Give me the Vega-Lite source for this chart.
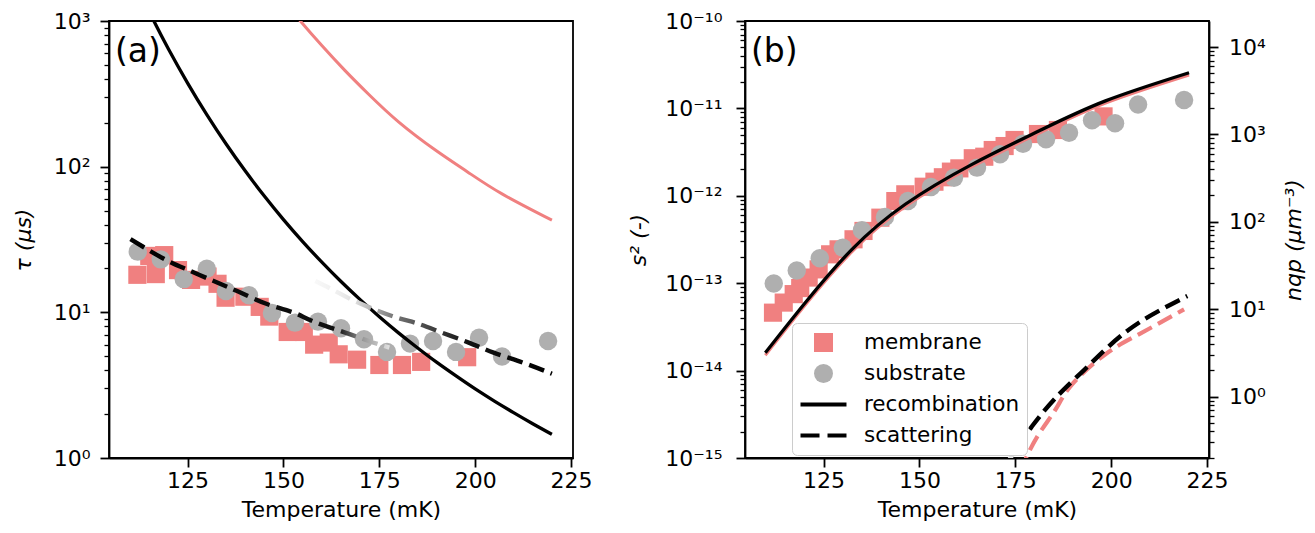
{
  "$schema": "https://vega.github.io/schema/vega-lite/v6.json",
  "padding": {"left": 11, "top": 9, "right": 5, "bottom": 5},
  "background": "white",
  "spacing": 33,
  "resolve": {"scale": {"fill": "independent", "stroke": "independent", "shape": "independent", "strokeDash": "independent"}, "legend": {"fill": "independent", "stroke": "independent", "shape": "independent", "strokeDash": "independent"}},
  "config": {
    "font": "DejaVu Sans",
    "view": {"stroke": "black", "strokeWidth": 1.8},
    "axis": {
      "labelFontSize": 22, "titleFontSize": 22, "titleFontWeight": "normal",
      "labelColor": "black", "titleColor": "black", "tickColor": "black", "domainColor": "black",
      "tickWidth": 1.8, "domainWidth": 1.8, "grid": false, "labelFlush": false, "labelOverlap": false,
      "labelFont": "DejaVu Sans", "titleFont": "DejaVu Sans"
    }
  },
  "datasets": {
    "a_pts": [
      {"series": "membrane", "T": 111.9, "tau": 18.1},
      {"series": "membrane", "T": 115.0, "tau": 24.4},
      {"series": "membrane", "T": 116.7, "tau": 18.3},
      {"series": "membrane", "T": 118.9, "tau": 24.7},
      {"series": "membrane", "T": 122.5, "tau": 19.5},
      {"series": "membrane", "T": 125.9, "tau": 16.7},
      {"series": "membrane", "T": 130.2, "tau": 17.6},
      {"series": "membrane", "T": 132.8, "tau": 15.7},
      {"series": "membrane", "T": 134.9, "tau": 12.6},
      {"series": "membrane", "T": 139.8, "tau": 12.8},
      {"series": "membrane", "T": 143.8, "tau": 10.9},
      {"series": "membrane", "T": 146.3, "tau": 9.35},
      {"series": "membrane", "T": 151.1, "tau": 7.33},
      {"series": "membrane", "T": 155.3, "tau": 7.33},
      {"series": "membrane", "T": 158.0, "tau": 6.0},
      {"series": "membrane", "T": 161.8, "tau": 6.2},
      {"series": "membrane", "T": 164.4, "tau": 5.15},
      {"series": "membrane", "T": 169.2, "tau": 4.73},
      {"series": "membrane", "T": 175.0, "tau": 4.35},
      {"series": "membrane", "T": 180.9, "tau": 4.35},
      {"series": "membrane", "T": 185.9, "tau": 4.57},
      {"series": "membrane", "T": 197.9, "tau": 4.92},
      {"series": "substrate", "T": 112, "tau": 26.1},
      {"series": "substrate", "T": 118, "tau": 23.1},
      {"series": "substrate", "T": 124, "tau": 16.9},
      {"series": "substrate", "T": 130, "tau": 19.9},
      {"series": "substrate", "T": 135, "tau": 14.0},
      {"series": "substrate", "T": 141, "tau": 13.1},
      {"series": "substrate", "T": 147, "tau": 9.9},
      {"series": "substrate", "T": 153, "tau": 8.5},
      {"series": "substrate", "T": 159, "tau": 8.63},
      {"series": "substrate", "T": 165, "tau": 7.78},
      {"series": "substrate", "T": 171, "tau": 6.53},
      {"series": "substrate", "T": 177, "tau": 5.35},
      {"series": "substrate", "T": 183, "tau": 6.1},
      {"series": "substrate", "T": 189, "tau": 6.36},
      {"series": "substrate", "T": 195, "tau": 5.35},
      {"series": "substrate", "T": 201, "tau": 6.7},
      {"series": "substrate", "T": 207, "tau": 4.97},
      {"series": "substrate", "T": 219, "tau": 6.36}
    ],
    "a_lines": [
      {"curve": "recomb", "T": 113, "tau": 1482},
      {"curve": "recomb", "T": 116.2, "tau": 1000},
      {"curve": "recomb", "T": 120, "tau": 643},
      {"curve": "recomb", "T": 125, "tau": 375},
      {"curve": "recomb", "T": 130, "tau": 227.8},
      {"curve": "recomb", "T": 135, "tau": 143.6},
      {"curve": "recomb", "T": 140, "tau": 93.6},
      {"curve": "recomb", "T": 145, "tau": 62.8},
      {"curve": "recomb", "T": 150, "tau": 43.3},
      {"curve": "recomb", "T": 155, "tau": 30.6},
      {"curve": "recomb", "T": 160, "tau": 22.1},
      {"curve": "recomb", "T": 165, "tau": 16.27},
      {"curve": "recomb", "T": 170, "tau": 12.22},
      {"curve": "recomb", "T": 175, "tau": 9.33},
      {"curve": "recomb", "T": 180, "tau": 7.23},
      {"curve": "recomb", "T": 185, "tau": 5.69},
      {"curve": "recomb", "T": 190, "tau": 4.53},
      {"curve": "recomb", "T": 195, "tau": 3.66},
      {"curve": "recomb", "T": 200, "tau": 2.98},
      {"curve": "recomb", "T": 205, "tau": 2.46},
      {"curve": "recomb", "T": 210, "tau": 2.05},
      {"curve": "recomb", "T": 215, "tau": 1.72},
      {"curve": "recomb", "T": 220, "tau": 1.455},
      {"curve": "memrecomb", "T": 150, "tau": 1380},
      {"curve": "memrecomb", "T": 154.4, "tau": 1000},
      {"curve": "memrecomb", "T": 160, "tau": 678},
      {"curve": "memrecomb", "T": 166, "tau": 458},
      {"curve": "memrecomb", "T": 172.2, "tau": 314},
      {"curve": "memrecomb", "T": 180, "tau": 203},
      {"curve": "memrecomb", "T": 189.6, "tau": 130},
      {"curve": "memrecomb", "T": 198, "tau": 92},
      {"curve": "memrecomb", "T": 207, "tau": 65},
      {"curve": "memrecomb", "T": 220, "tau": 42.9},
      {"curve": "scatA", "T": 110.1, "tau": 31.8},
      {"curve": "scatA", "T": 118.3, "tau": 23.7},
      {"curve": "scatA", "T": 124.4, "tau": 19.9},
      {"curve": "scatA", "T": 131.8, "tau": 16.4},
      {"curve": "scatA", "T": 137.9, "tau": 14.0},
      {"curve": "scatA", "T": 145.7, "tau": 11.4},
      {"curve": "scatA", "T": 152.7, "tau": 9.95},
      {"curve": "scatA", "T": 157.9, "tau": 8.63},
      {"curve": "scatA", "T": 166.1, "tau": 7.26},
      {"curve": "scatA", "T": 172.2, "tau": 6.36},
      {"curve": "scatA", "T": 177.6, "tau": 5.73},
      {"curve": "scatB", "T": 158.3, "tau": 16.4},
      {"curve": "scatB", "T": 163.5, "tau": 14.0},
      {"curve": "scatB", "T": 169, "tau": 11.8},
      {"curve": "scatB", "T": 178.3, "tau": 9.44},
      {"curve": "scatB", "T": 184.8, "tau": 8.4},
      {"curve": "scatB", "T": 191.3, "tau": 7.26},
      {"curve": "scatB", "T": 198.3, "tau": 6.2},
      {"curve": "scatB", "T": 204.8, "tau": 5.29},
      {"curve": "scatB", "T": 212.4, "tau": 4.52},
      {"curve": "scatB", "T": 220, "tau": 3.79}
    ],
    "b_pts": [
      {"series": "membrane", "T": 111.8, "s2": 4.6e-14},
      {"series": "membrane", "T": 114.6, "s2": 6.0e-14},
      {"series": "membrane", "T": 117.2, "s2": 7.5e-14},
      {"series": "membrane", "T": 118.9, "s2": 8.8e-14},
      {"series": "membrane", "T": 121.1, "s2": 1.16e-13},
      {"series": "membrane", "T": 123.7, "s2": 1.44e-13},
      {"series": "membrane", "T": 126.7, "s2": 2.14e-13},
      {"series": "membrane", "T": 128.9, "s2": 2.44e-13},
      {"series": "membrane", "T": 132.8, "s2": 3.18e-13},
      {"series": "membrane", "T": 135.4, "s2": 3.96e-13},
      {"series": "membrane", "T": 139.8, "s2": 5.62e-13},
      {"series": "membrane", "T": 143.7, "s2": 8.7e-13},
      {"series": "membrane", "T": 146.3, "s2": 1.04e-12},
      {"series": "membrane", "T": 151.1, "s2": 1.27e-12},
      {"series": "membrane", "T": 153.9, "s2": 1.45e-12},
      {"series": "membrane", "T": 156.1, "s2": 1.63e-12},
      {"series": "membrane", "T": 158.2, "s2": 1.89e-12},
      {"series": "membrane", "T": 160.4, "s2": 2.06e-12},
      {"series": "membrane", "T": 163.9, "s2": 2.69e-12},
      {"series": "membrane", "T": 166.9, "s2": 2.8e-12},
      {"series": "membrane", "T": 169.1, "s2": 3.34e-12},
      {"series": "membrane", "T": 172.2, "s2": 3.71e-12},
      {"series": "membrane", "T": 174.8, "s2": 4.35e-12},
      {"series": "membrane", "T": 180.9, "s2": 5.09e-12},
      {"series": "membrane", "T": 186.1, "s2": 5.66e-12},
      {"series": "membrane", "T": 198.0, "s2": 8.1e-12},
      {"series": "substrate", "T": 112, "s2": 9.9e-14},
      {"series": "substrate", "T": 118, "s2": 1.4e-13},
      {"series": "substrate", "T": 124, "s2": 1.93e-13},
      {"series": "substrate", "T": 130, "s2": 2.55e-13},
      {"series": "substrate", "T": 135, "s2": 4.03e-13},
      {"series": "substrate", "T": 141, "s2": 5.72e-13},
      {"series": "substrate", "T": 147, "s2": 8.73e-13},
      {"series": "substrate", "T": 153, "s2": 1.26e-12},
      {"series": "substrate", "T": 159, "s2": 1.61e-12},
      {"series": "substrate", "T": 165, "s2": 2.1e-12},
      {"series": "substrate", "T": 171, "s2": 2.99e-12},
      {"series": "substrate", "T": 177, "s2": 3.95e-12},
      {"series": "substrate", "T": 183, "s2": 4.43e-12},
      {"series": "substrate", "T": 189, "s2": 5.27e-12},
      {"series": "substrate", "T": 195, "s2": 7.31e-12},
      {"series": "substrate", "T": 201, "s2": 6.76e-12},
      {"series": "substrate", "T": 207, "s2": 1.11e-11},
      {"series": "substrate", "T": 219, "s2": 1.25e-11}
    ],
    "b_lines": [
      {"curve": "recomb", "T": 109.8, "s2": 1.6e-14},
      {"curve": "recomb", "T": 120.2, "s2": 5.98e-14},
      {"curve": "recomb", "T": 132.4, "s2": 2.44e-13},
      {"curve": "recomb", "T": 146.3, "s2": 8.0e-13},
      {"curve": "recomb", "T": 163.7, "s2": 2.29e-12},
      {"curve": "recomb", "T": 181.1, "s2": 5.51e-12},
      {"curve": "recomb", "T": 198.5, "s2": 1.22e-11},
      {"curve": "recomb", "T": 220.3, "s2": 2.56e-11},
      {"curve": "memrecomb", "T": 109.8, "s2": 1.5e-14},
      {"curve": "memrecomb", "T": 120.2, "s2": 5.62e-14},
      {"curve": "memrecomb", "T": 132.4, "s2": 2.29e-13},
      {"curve": "memrecomb", "T": 146.3, "s2": 7.52e-13},
      {"curve": "memrecomb", "T": 163.7, "s2": 2.15e-12},
      {"curve": "memrecomb", "T": 181.1, "s2": 5.18e-12},
      {"curve": "memrecomb", "T": 198.5, "s2": 1.15e-11},
      {"curve": "memrecomb", "T": 220.3, "s2": 2.41e-11},
      {"curve": "scat", "T": 172, "s2": 7.8e-16},
      {"curve": "scat", "T": 173.7, "s2": 1.0e-15},
      {"curve": "scat", "T": 179.4, "s2": 2.32e-15},
      {"curve": "scat", "T": 186.4, "s2": 5.36e-15},
      {"curve": "scat", "T": 192.5, "s2": 9.75e-15},
      {"curve": "scat", "T": 198.5, "s2": 1.75e-14},
      {"curve": "scat", "T": 207.2, "s2": 3.53e-14},
      {"curve": "scat", "T": 219.85, "s2": 7.14e-14},
      {"curve": "memscat", "T": 176.3, "s2": 7.1e-16},
      {"curve": "memscat", "T": 177.8, "s2": 1.0e-15},
      {"curve": "memscat", "T": 181.1, "s2": 1.87e-15},
      {"curve": "memscat", "T": 185.5, "s2": 3.6e-15},
      {"curve": "memscat", "T": 189.8, "s2": 6.97e-15},
      {"curve": "memscat", "T": 198.5, "s2": 1.54e-14},
      {"curve": "memscat", "T": 207.2, "s2": 2.6e-14},
      {"curve": "memscat", "T": 219, "s2": 5.02e-14}
    ]
  },
  "hconcat": [
    {
      "width": 464,
      "height": 437,
      "title": {"text": "(a)", "anchor": "start", "frame": "group", "offset": -85, "baseline": "alphabetic", "dx": 6, "fontSize": 33, "fontWeight": "normal", "font": "DejaVu Sans", "color": "black"},
      "resolve": {"axis": {"y": "independent"}},
      "encoding": {
        "x": {"field": "T", "type": "quantitative", "scale": {"domain": [104.5, 225.5], "nice": false, "zero": false},
              "axis": {"values": [125, 150, 175, 200, 225], "title": "Temperature (mK)", "tickSize": 9, "labelPadding": 3.5, "titlePadding": 8}}
      },
      "layer": [
        {
          "data": {"name": "a_pts"},
          "transform": [{"filter": "datum.series === 'membrane'"}],
          "mark": {"type": "point", "shape": "square", "filled": true, "size": 330, "color": "#f08080", "opacity": 1},
          "encoding": {
            "y": {"field": "tau", "type": "quantitative", "scale": {"type": "log", "domain": [1, 1000], "nice": false},
                  "axis": {"orient": "left", "values": [1, 10, 100, 1000], "labelExpr": "'10' + ['⁰','¹','²','³'][round(log(datum.value)/LN10)]", "title": "τ (μs)", "titleFontStyle": "italic", "tickSize": 9, "labelPadding": 10, "titlePadding": 18}}
          }
        },
        {
          "data": {"name": "a_pts"},
          "transform": [{"filter": "datum.series === 'substrate'"}],
          "mark": {"type": "point", "shape": "circle", "filled": true, "size": 340, "color": "#afafaf", "opacity": 1},
          "encoding": {"y": {"field": "tau", "type": "quantitative", "axis": null}}
        },
        {
          "data": {"name": "a_lines"},
          "transform": [{"filter": "datum.curve === 'memrecomb'"}],
          "mark": {"type": "line", "color": "#f08080", "strokeWidth": 3, "clip": true, "interpolate": "natural"},
          "encoding": {"y": {"field": "tau", "type": "quantitative", "axis": null}}
        },
        {
          "data": {"name": "a_lines"},
          "transform": [{"filter": "datum.curve === 'recomb'"}],
          "mark": {"type": "line", "color": "black", "strokeWidth": 3.3, "clip": true, "interpolate": "natural"},
          "encoding": {"y": {"field": "tau", "type": "quantitative", "axis": null}}
        },
        {
          "data": {"name": "a_lines"},
          "transform": [{"filter": "datum.curve === 'scatA'"}],
          "mark": {"type": "line", "strokeWidth": 4.4, "strokeDash": [16, 7], "strokeCap": "butt", "clip": true, "interpolate": "natural",
                   "color": {"gradient": "linear", "x1": 0, "y1": 0, "x2": 1, "y2": 0, "stops": [{"offset": 0, "color": "#000000"}, {"offset": 0.8, "color": "#111111"}, {"offset": 0.9, "color": "#999999"}, {"offset": 1, "color": "#e0e0e0"}]}},
          "encoding": {"y": {"field": "tau", "type": "quantitative", "axis": null}}
        },
        {
          "data": {"name": "a_lines"},
          "transform": [{"filter": "datum.curve === 'scatB'"}],
          "mark": {"type": "line", "strokeWidth": 4.4, "strokeDash": [16, 7], "strokeCap": "butt", "clip": true, "interpolate": "natural",
                   "color": {"gradient": "linear", "x1": 0, "y1": 0, "x2": 1, "y2": 0, "stops": [{"offset": 0, "color": "#f8f8f8"}, {"offset": 0.1, "color": "#eeeeee"}, {"offset": 0.17, "color": "#dddddd"}, {"offset": 0.33, "color": "#777777"}, {"offset": 0.43, "color": "#555555"}, {"offset": 0.54, "color": "#333333"}, {"offset": 0.65, "color": "#111111"}, {"offset": 1, "color": "#000000"}]}},
          "encoding": {"y": {"field": "tau", "type": "quantitative", "axis": null}}
        },
        {
          "data": {"name": "a_pts"},
          "mark": {"type": "point", "opacity": 0},
          "encoding": {
            "y": {"field": "tau", "type": "quantitative",
                  "axis": {"orient": "left", "values": [2,3,4,5,6,7,8,9,20,30,40,50,60,70,80,90,200,300,400,500,600,700,800,900], "labels": false, "domain": false, "tickSize": 5, "tickWidth": 1.3, "title": null}}
          }
        }
      ]
    },
    {
      "width": 464,
      "height": 437,
      "title": {"text": "(b)", "anchor": "start", "frame": "group", "offset": -85, "baseline": "alphabetic", "dx": 6, "fontSize": 33, "fontWeight": "normal", "font": "DejaVu Sans", "color": "black"},
      "resolve": {"scale": {"y": "independent"}, "axis": {"y": "independent"}},
      "encoding": {
        "x": {"field": "T", "type": "quantitative", "scale": {"domain": [104.5, 225.5], "nice": false, "zero": false},
              "axis": {"values": [125, 150, 175, 200, 225], "title": "Temperature (mK)", "tickSize": 9, "labelPadding": 3.5, "titlePadding": 8}}
      },
      "layer": [
        {
          "data": {"name": "b_pts"},
          "transform": [{"filter": "datum.series === 'membrane'"}],
          "mark": {"type": "point", "filled": true, "size": 330, "opacity": 1, "strokeWidth": 3.8},
          "encoding": {
            "y": {"field": "s2", "type": "quantitative", "scale": {"type": "log", "domain": [1e-15, 1e-10], "nice": false},
                  "axis": {"orient": "left", "values": [1e-15, 1e-14, 1e-13, 1e-12, 1e-11, 1e-10], "labelExpr": "'10⁻¹' + ['⁰','¹','²','³','⁴','⁵'][round(-log(datum.value)/LN10) - 10]", "title": "s² (-)", "titleFontStyle": "italic", "tickSize": 9, "labelPadding": 14, "titlePadding": 14}},
            "fill": {"field": "series", "type": "nominal",
                     "scale": {"domain": ["membrane", "substrate", "recombination", "scattering"], "range": ["#f08080", "#afafaf", "rgba(0,0,0,0)", "rgba(0,0,0,0)"]},
                     "legend": {
                       "title": null, "orient": "none", "legendX": 47, "legendY": 302,
                       "fillColor": "white", "strokeColor": "#cccccc", "cornerRadius": 5, "padding": 7,
                       "labelFontSize": 21.5, "labelColor": "black", "labelFont": "DejaVu Sans",
                       "symbolSize": 361, "symbolOffset": 13, "labelOffset": 29, "rowPadding": 6, "clipHeight": 25,
                       "symbolStrokeWidth": 3.8, "symbolOpacity": 1
                     }},
            "stroke": {"field": "series", "type": "nominal",
                       "scale": {"domain": ["membrane", "substrate", "recombination", "scattering"], "range": ["rgba(0,0,0,0)", "rgba(0,0,0,0)", "#000000", "#000000"]}},
            "shape": {"field": "series", "type": "nominal",
                      "scale": {"domain": ["membrane", "substrate", "recombination", "scattering"], "range": ["square", "circle", "M-2.42,0L2.42,0", "M-2.42,0L2.42,0"]}},
            "strokeDash": {"field": "series", "type": "nominal",
                           "scale": {"domain": ["membrane", "substrate", "recombination", "scattering"], "range": [[1, 0], [1, 0], [1, 0], [19, 8]]}}
          }
        },
        {
          "data": {"name": "b_pts"},
          "transform": [{"filter": "datum.series === 'substrate'"}],
          "mark": {"type": "point", "shape": "circle", "filled": true, "size": 340, "color": "#afafaf", "opacity": 1},
          "encoding": {"y": {"field": "s2", "type": "quantitative", "scale": {"type": "log", "domain": [1e-15, 1e-10], "nice": false}, "axis": null}}
        },
        {
          "data": {"name": "b_lines"},
          "transform": [{"filter": "datum.curve === 'memrecomb'"}],
          "mark": {"type": "line", "color": "#f08080", "strokeWidth": 3, "clip": true, "interpolate": "natural"},
          "encoding": {"y": {"field": "s2", "type": "quantitative", "scale": {"type": "log", "domain": [1e-15, 1e-10], "nice": false}, "axis": null}}
        },
        {
          "data": {"name": "b_lines"},
          "transform": [{"filter": "datum.curve === 'recomb'"}],
          "mark": {"type": "line", "color": "black", "strokeWidth": 3.3, "clip": true, "interpolate": "natural"},
          "encoding": {"y": {"field": "s2", "type": "quantitative", "scale": {"type": "log", "domain": [1e-15, 1e-10], "nice": false}, "axis": null}}
        },
        {
          "data": {"name": "b_lines"},
          "transform": [{"filter": "datum.curve === 'memscat'"}],
          "mark": {"type": "line", "color": "#f08080", "strokeWidth": 4.2, "strokeDash": [16, 7], "strokeCap": "butt", "clip": true, "interpolate": "natural"},
          "encoding": {"y": {"field": "s2", "type": "quantitative", "scale": {"type": "log", "domain": [1e-15, 1e-10], "nice": false}, "axis": null}}
        },
        {
          "data": {"name": "b_lines"},
          "transform": [{"filter": "datum.curve === 'scat'"}],
          "mark": {"type": "line", "strokeWidth": 4.4, "strokeDash": [16, 7], "strokeCap": "butt", "clip": true, "interpolate": "natural",
                   "color": {"gradient": "linear", "x1": 0, "y1": 0, "x2": 1, "y2": 0, "stops": [{"offset": 0, "color": "#e6e6e6"}, {"offset": 0.13, "color": "#cccccc"}, {"offset": 0.14, "color": "#000000"}, {"offset": 1, "color": "#000000"}]}},
          "encoding": {"y": {"field": "s2", "type": "quantitative", "scale": {"type": "log", "domain": [1e-15, 1e-10], "nice": false}, "axis": null}}
        },
        {
          "data": {"name": "b_pts"},
          "mark": {"type": "point", "opacity": 0, "clip": true},
          "encoding": {
            "y": {"field": "s2", "type": "quantitative", "scale": {"type": "log", "domain": [1e-15, 1e-10], "nice": false},
                  "axis": {"orient": "left", "values": [2e-15,3e-15,4e-15,5e-15,6e-15,7e-15,8e-15,9e-15,2e-14,3e-14,4e-14,5e-14,6e-14,7e-14,8e-14,9e-14,2e-13,3e-13,4e-13,5e-13,6e-13,7e-13,8e-13,9e-13,2e-12,3e-12,4e-12,5e-12,6e-12,7e-12,8e-12,9e-12,2e-11,3e-11,4e-11,5e-11,6e-11,7e-11,8e-11,9e-11], "labels": false, "domain": false, "tickSize": 5, "tickWidth": 1.3, "title": null}}
          }
        },
        {
          "data": {"name": "b_pts"},
          "mark": {"type": "point", "opacity": 0, "clip": true},
          "encoding": {
            "y": {"field": "s2", "type": "quantitative", "scale": {"type": "log", "domain": [0.1984, 19840], "nice": false},
                  "axis": {"orient": "right", "values": [1, 10, 100, 1000, 10000], "labelExpr": "'10' + ['⁰','¹','²','³','⁴'][round(log(datum.value)/LN10)]", "title": "nqp (μm⁻³)", "titleFontStyle": "italic", "titleAngle": 270, "titleBaseline": "top", "tickSize": 9, "labelPadding": 10.5, "titlePadding": 18}}
          }
        },
        {
          "data": {"name": "b_pts"},
          "mark": {"type": "point", "opacity": 0, "clip": true},
          "encoding": {
            "y": {"field": "s2", "type": "quantitative", "scale": {"type": "log", "domain": [0.1984, 19840], "nice": false},
                  "axis": {"orient": "right", "values": [0.2,0.3,0.4,0.5,0.6,0.7,0.8,0.9,2,3,4,5,6,7,8,9,20,30,40,50,60,70,80,90,200,300,400,500,600,700,800,900,2000,3000,4000,5000,6000,7000,8000,9000], "labels": false, "domain": false, "tickSize": 5, "tickWidth": 1.3, "title": null}}
          }
        }
      ]
    }
  ]
}
